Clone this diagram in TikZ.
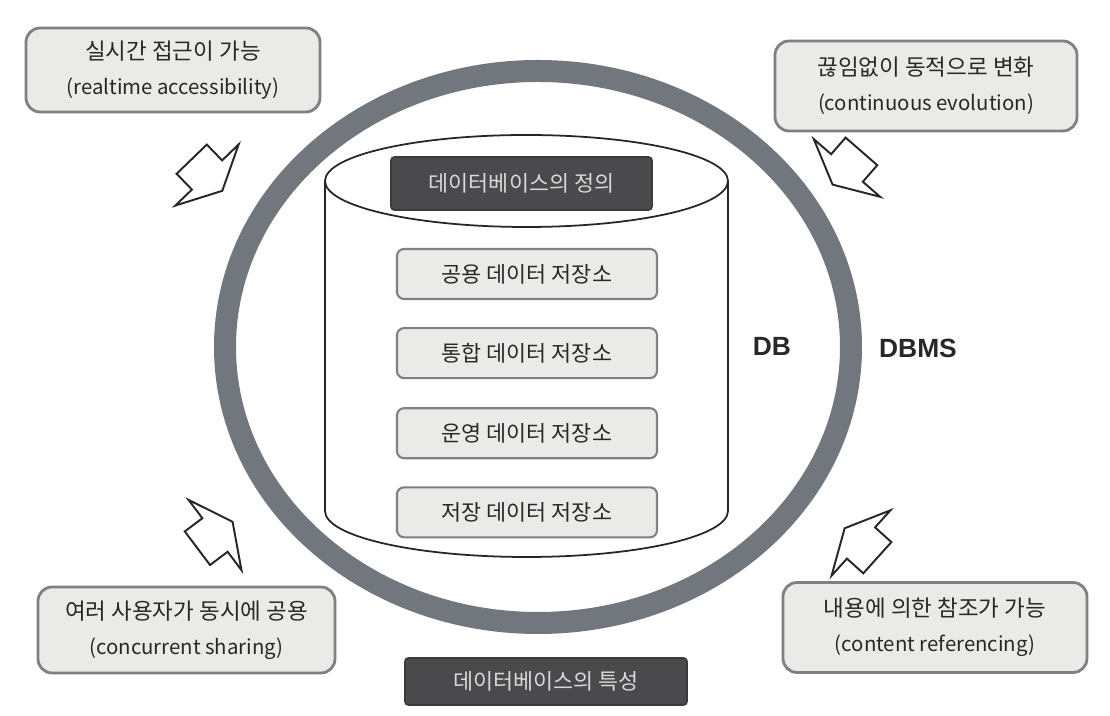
\documentclass[tikz,border=0pt]{standalone}
\usepackage{fontspec}
\setmainfont{Noto Sans CJK KR}
\newfontfamily\labelfont{Liberation Sans}
\usetikzlibrary{positioning}
\definecolor{figring}{RGB}{114,119,126}
\definecolor{figdark}{RGB}{74,74,76}
\definecolor{figlight}{RGB}{234,234,232}
\definecolor{figedge}{RGB}{128,128,128}
\definecolor{figtext}{RGB}{40,40,40}
\newcommand{\subline}[1]{{\fontsize{5.8pt}{10pt}\selectfont #1}}
\tikzset{
  featurebox/.style={draw=figedge, rounded corners=4pt, line width=0.8pt, fill=figlight, align=center, inner sep=0pt, text=figtext, font=\fontsize{6.4pt}{10pt}\selectfont},
  storebox/.style={draw=figedge, rounded corners=2pt, line width=0.6pt, fill=figlight, minimum width=2.6cm, minimum height=0.5cm, inner sep=0pt, text=figtext, font=\fontsize{6.2pt}{8pt}\selectfont},
  titlebox/.style={draw=figdark!80!black, rounded corners=1pt, line width=0.5pt, fill=figdark, inner sep=0pt, text=white!85!black, font=\fontsize{6.2pt}{8pt}\selectfont},
  tierlabel/.style={font=\labelfont\bfseries\fontsize{7.5pt}{9pt}\selectfont, text=figtext},
  cylline/.style={draw=black!85, line width=0.5pt},
  blockarrow/.pic={
    \draw[line width=0.55pt, draw=black!85, fill=white, line join=miter]
      (-0.22,0.21) -- (0,0.21) -- (0,0.44) -- (0.22,0) -- (0,-0.44) -- (0,-0.21) -- (-0.22,-0.21) -- cycle;
  }
}

\begin{document}
\begin{tikzpicture}[x=1cm,y=1cm]
  \useasboundingbox[fill=white] (0,0) rectangle (11.1,7.16);

  % ring and database cylinder
  \draw[draw=figring, line width=0.22cm] (5.38,3.69) ellipse[x radius=3.13, y radius=2.76];
  \draw[cylline, fill=white] (3.25,5.35) -- (3.25,2.05)
    arc[start angle=180, end angle=360, x radius=2.015, y radius=0.46] -- (7.28,5.35);
  \draw[cylline] (5.265,5.35) ellipse[x radius=2.015, y radius=0.46];

  \node[titlebox, minimum width=2.61cm, minimum height=0.53cm] (defTitle) at (5.215,5.325) {데이터베이스의 정의};
  \node[storebox] (store1) at (5.27,4.42) {공용 데이터 저장소};
  \node[storebox, below=0.27cm of store1] (store2) {통합 데이터 저장소};
  \node[storebox, below=0.28cm of store2] (store3) {운영 데이터 저장소};
  \node[storebox, below=0.27cm of store3] (store4) {저장 데이터 저장소};

  \node[tierlabel] (dbLabel) at (7.72,3.70) {DB};
  \node[tierlabel] (dbmsLabel) at (9.18,3.68) {DBMS};

  % characteristics
  \node[featurebox, minimum width=2.94cm, minimum height=0.84cm] (realtime) at (1.73,6.46) {실시간 접근이 가능\\\subline{(realtime accessibility)}};
  \node[featurebox, minimum width=3.02cm, minimum height=0.9cm] (evolution) at (9.26,6.30) {끊임없이 동적으로 변화\\\subline{(continuous evolution)}};
  \node[featurebox, minimum width=2.97cm, minimum height=0.86cm] (sharing) at (1.865,0.86) {여러 사용자가 동시에 공용\\\subline{(concurrent sharing)}};
  \node[featurebox, minimum width=3.04cm, minimum height=0.9cm] (referencing) at (9.35,0.885) {내용에 의한 참조가 가능\\\subline{(content referencing)}};
  \node[titlebox, minimum width=2.82cm, minimum height=0.47cm] (featTitle) at (5.46,0.345) {데이터베이스의 특성};

  \pic[rotate=-46] at (2.07,5.41) {blockarrow};
  \pic[rotate=-131] at (8.47,5.48) {blockarrow};
  \pic[rotate=37] at (2.15,1.81) {blockarrow};
  \pic[rotate=138] at (8.61,1.73) {blockarrow};
\end{tikzpicture}
\end{document}
